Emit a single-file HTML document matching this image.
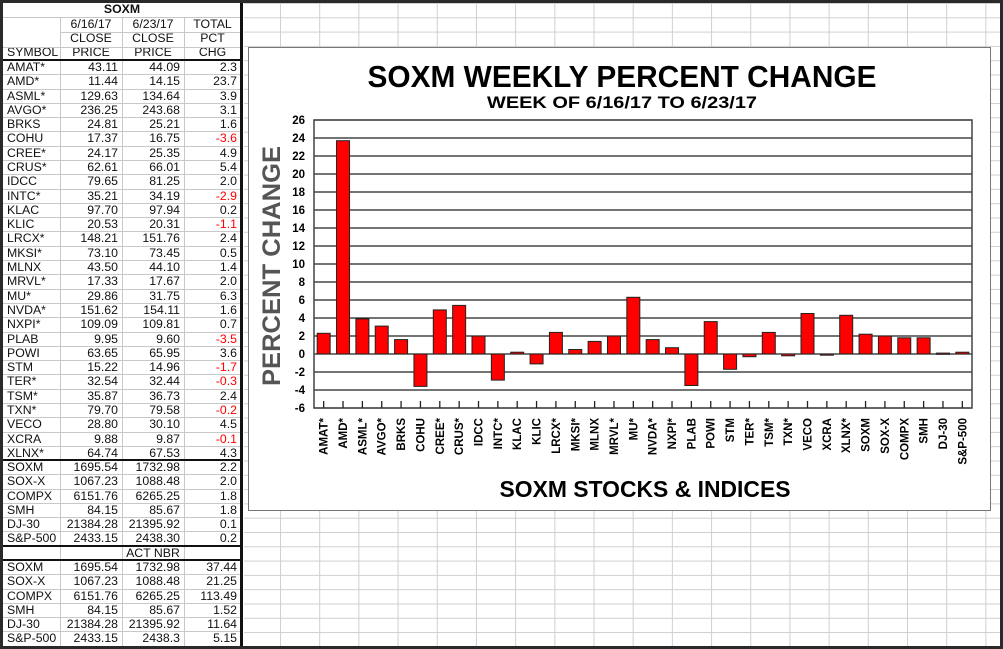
<!DOCTYPE html>
<html><head><meta charset="utf-8"><style>
html,body{margin:0;padding:0;background:#fff}
#root{position:relative;width:1003px;height:649px;overflow:hidden;background:#fff;font-family:"Liberation Sans",Arial,sans-serif}
#grid{position:absolute;left:244px;top:0;width:759px;height:649px;
background-image:linear-gradient(to right,#cfcfcf 1px,transparent 1px),linear-gradient(to bottom,#cfcfcf 1px,transparent 1px);
background-size:39.2px 14.3px,39.2px 14.3px;background-position:36px 0,0 3px}
.c{position:absolute;font-size:12.3px;line-height:15px;white-space:nowrap;color:#111}
.hl{position:absolute;background:#c8c8c8;height:1px}
.vl{position:absolute;background:#c8c8c8;width:1px}
#frame{position:absolute;left:248px;top:47px;width:741px;height:462px;border:1px solid #777;background:#fff}
#outer{position:absolute;left:0;top:0;width:1003px;height:649px;box-sizing:border-box;border:3px solid #2a2a2a;pointer-events:none}
</style></head><body>
<div id="root">
<div id="grid"></div>
<div id="table"></div>
<div id="frame">
<svg id="chart" width="741" height="462"></svg>
</div>
<div id="outer"></div>
</div>
<script>
const symbols=["AMAT*","AMD*","ASML*","AVGO*","BRKS","COHU","CREE*","CRUS*","IDCC","INTC*","KLAC","KLIC","LRCX*","MKSI*","MLNX","MRVL*","MU*","NVDA*","NXPI*","PLAB","POWI","STM","TER*","TSM*","TXN*","VECO","XCRA","XLNX*"];
const close1=["43.11","11.44","129.63","236.25","24.81","17.37","24.17","62.61","79.65","35.21","97.70","20.53","148.21","73.10","43.50","17.33","29.86","151.62","109.09","9.95","63.65","15.22","32.54","35.87","79.70","28.80","9.88","64.74"];
const close2=["44.09","14.15","134.64","243.68","25.21","16.75","25.35","66.01","81.25","34.19","97.94","20.31","151.76","73.45","44.10","17.67","31.75","154.11","109.81","9.60","65.95","14.96","32.44","36.73","79.58","30.10","9.87","67.53"];
const pctChg=["2.3","23.7","3.9","3.1","1.6","-3.6","4.9","5.4","2.0","-2.9","0.2","-1.1","2.4","0.5","1.4","2.0","6.3","1.6","0.7","-3.5","3.6","-1.7","-0.3","2.4","-0.2","4.5","-0.1","4.3"];
const indices=["SOXM","SOX-X","COMPX","SMH","DJ-30","S&P-500"];
const idx1=["1695.54","1067.23","6151.76","84.15","21384.28","2433.15"];
const idx2=["1732.98","1088.48","6265.25","85.67","21395.92","2438.30"];
const idxPct=["2.2","2.0","1.8","1.8","0.1","0.2"];
const idx2b=["1732.98","1088.48","6265.25","85.67","21395.92","2438.3"];
const actNbr=["37.44","21.25","113.49","1.52","11.64","5.15"];

const T=document.getElementById('table');
const colX=[3,60,122,184,241];
function cell(txt,col,y,align,color,name){
  const d=document.createElement('div');
  d.className='c';
  d.textContent=txt;
  d.style.top=(y)+'px';
  if(align==='c'){d.style.left=colX[col]+'px';d.style.width=(colX[col+1]-colX[col])+'px';d.style.textAlign='center';}
  else if(align==='r'){d.style.left=colX[col]+'px';d.style.width=(colX[col+1]-colX[col]-4)+'px';d.style.textAlign='right';}
  else {d.style.left=(colX[col]+4)+'px';}
  if(color)d.style.color=color;
  
  
  T.appendChild(d);
}
function hline(y,x1,x2,col,h){const l=document.createElement('div');l.className='hl';l.style.top=y+'px';l.style.left=x1+'px';l.style.width=(x2-x1)+'px';if(col){l.style.background=col;}if(h)l.style.height=h+'px';


T.appendChild(l);}
function vline(x,y1,y2,col,w){const l=document.createElement('div');l.className='vl';l.style.left=x+'px';l.style.top=y1+'px';l.style.height=(y2-y1)+'px';if(col)l.style.background=col;if(w)l.style.width=w+'px';


T.appendChild(l);}
const bg=document.createElement('div');bg.style.cssText='position:absolute;left:0;top:0;width:244px;height:649px;background:#fff';


T.appendChild(bg);
cell('SOXM',0,2,'c',null,'table-title');T.lastChild.style.left='3px';T.lastChild.style.width='238px';T.lastChild.style.fontWeight='bold';
cell('6/16/17',1,17,'c',null,'header-date-1');cell('6/23/17',2,17,'c',null,'header-date-2');cell('TOTAL',3,17,'c',null,'header-total');
cell('CLOSE',1,31,'c',null,'header-close-1');cell('CLOSE',2,31,'c',null,'header-close-2');cell('PCT',3,31,'c',null,'header-pct');
cell('SYMBOL',0,45,'l',null,'header-symbol');cell('PRICE',1,45,'c',null,'header-price-1');cell('PRICE',2,45,'c',null,'header-price-2');cell('CHG',3,45,'c',null,'header-chg');
hline(17,3,241);hline(32,60,241);hline(47,3,241);
const RH=14.29;
for(let i=0;i<symbols.length;i++){
  const y=60+i*RH;
  cell(symbols[i],0,y,'l',null,'symbol-cell');
  cell(close1[i],1,y,'r',null,'close-price-1');
  cell(close2[i],2,y,'r',null,'close-price-2');
  cell(pctChg[i],3,y,'r',pctChg[i][0]==='-'?'#f00':null,'pct-change');
  hline(Math.round(y+RH),3,241);
}
for(let i=0;i<indices.length;i++){
  const y=460+i*RH;
  cell(indices[i],0,y,'l',null,'index-symbol');
  cell(idx1[i],1,y,'r',null,'index-close-1');
  cell(idx2[i],2,y,'r',null,'index-close-2');
  cell(idxPct[i],3,y,'r',null,'index-pct-change');
  hline(Math.round(y+RH),3,241);
}
cell('ACT NBR',2,546,'c',null,'act-nbr-header');
for(let i=0;i<indices.length;i++){
  const y=560+i*RH;
  cell(indices[i],0,y,'l',null,'index-symbol');
  cell(idx1[i],1,y,'r',null,'index-close-1');
  cell(idx2b[i],2,y,'r',null,'index-close-2');
  cell(actNbr[i],3,y,'r',null,'act-nbr-value');
  hline(Math.round(y+RH),3,241);
}
vline(60,17,649);vline(122,17,649);vline(184,17,649);
hline(59,3,241,'#111',2);hline(459,3,241,'#111',2);hline(545,3,241,'#111',2);hline(559,3,241,'#111',2);
vline(240,0,649,'#111',3);

// ===== chart =====
const categories=["AMAT*","AMD*","ASML*","AVGO*","BRKS","COHU","CREE*","CRUS*","IDCC","INTC*","KLAC","KLIC","LRCX*","MKSI*","MLNX","MRVL*","MU*","NVDA*","NXPI*","PLAB","POWI","STM","TER*","TSM*","TXN*","VECO","XCRA","XLNX*","SOXM","SOX-X","COMPX","SMH","DJ-30","S&P-500"];
const values=[2.3,23.7,3.9,3.1,1.6,-3.6,4.9,5.4,2.0,-2.9,0.2,-1.1,2.4,0.5,1.4,2.0,6.3,1.6,0.7,-3.5,3.6,-1.7,-0.3,2.4,-0.2,4.5,-0.1,4.3,2.2,2.0,1.8,1.8,0.1,0.2];
const yTicks=[26,24,22,20,18,16,14,12,10,8,6,4,2,0,-2,-4,-6];
const yMin=-6,yMax=26;
const NS='http://www.w3.org/2000/svg';
const S=document.getElementById('chart');
const PL=314-249,PR=972-249,PT=120-48,PB=408-48;
const yS=v=>PB-(v-yMin)/(yMax-yMin)*(PB-PT);
const bw=(PR-PL)/categories.length;
const xS=i=>PL+bw*(i+0.5);
function el(t,a){const e=document.createElementNS(NS,t);for(const k in a)e.setAttribute(k,a[k]);S.appendChild(e);return e;}
let t=el('text',{x:373,y:39,'text-anchor':'middle','font-size':31,'font-weight':'bold',textLength:509,lengthAdjust:'spacingAndGlyphs',fill:'#000'});t.textContent='SOXM WEEKLY PERCENT CHANGE';


t=el('text',{x:373,y:60,'text-anchor':'middle','font-size':17,'font-weight':'bold',textLength:270,lengthAdjust:'spacingAndGlyphs',fill:'#000'});t.textContent='WEEK OF 6/16/17 TO 6/23/17';


yTicks.forEach(v=>{
  const g=el('line',{x1:PL,x2:PR,y1:yS(v),y2:yS(v),stroke:'#222','stroke-width':1.3});
  
  
  const l=el('text',{x:PL-9,y:yS(v)+4,'text-anchor':'end','font-size':11.5,'font-weight':'bold',fill:'#000'});l.textContent=v;
  
  
});
const pb=el('rect',{x:PL,y:PT,width:PR-PL,height:PB-PT,fill:'none',stroke:'#444','stroke-width':1.5});


values.forEach((v,i)=>{
  const y0=yS(0),y1=yS(v);
  const r=el('rect',{x:xS(i)-6.5,y:Math.min(y0,y1),width:13,height:Math.max(Math.abs(y1-y0),1.2),fill:'#f00',stroke:'#222','stroke-width':1});
  
  
  const tk=el('line',{x1:xS(i),x2:xS(i),y1:PB-7,y2:PB,stroke:'#222','stroke-width':1.3});
  
  
  const lb=el('text',{x:0,y:0,'text-anchor':'end','font-size':11.5,'font-weight':'bold',fill:'#000',transform:'translate('+(xS(i)+4)+','+(PB+10)+') rotate(-90)'});lb.textContent=categories[i];
  
  
});
t=el('text',{x:0,y:0,'text-anchor':'middle','font-size':25,'font-weight':'bold',textLength:240,lengthAdjust:'spacingAndGlyphs',fill:'#555',transform:'translate(31,218) rotate(-90)'});t.textContent='PERCENT CHANGE';


t=el('text',{x:396,y:449,'text-anchor':'middle','font-size':23,'font-weight':'bold',textLength:291,lengthAdjust:'spacingAndGlyphs',fill:'#000'});t.textContent='SOXM STOCKS & INDICES';


</script>
</body></html>
